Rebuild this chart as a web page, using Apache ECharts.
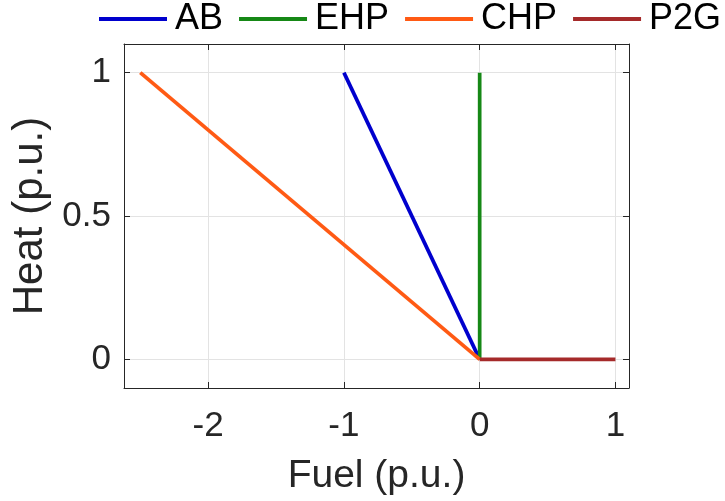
<!DOCTYPE html>
<html>
<head>
<meta charset="utf-8">
<script src="https://cdn.jsdelivr.net/npm/echarts@6/dist/echarts.min.js"></script>
<style>
html,body{margin:0;padding:0;background:#fff;}
#chart{width:725px;height:501px;}
</style>
</head>
<body>
<div id="chart"></div>
<script>
// Data
const seriesNames = ['AB', 'EHP', 'CHP', 'P2G'];
const abData  = [[-1, 1], [0, 0]];
const ehpData = [[0, 1], [0, 0]];
const chpData = [[-2.5, 1], [0, 0]];
const p2gData = [[0, 0], [1, 0]];
const xTicks = [-2, -1, 0, 1];
const yTicks = [0, 0.5, 1];
const xRange = [-2.62, 1.1];
const yRange = [-0.1, 1.1];
const colors = ['#0000CD', '#168816', '#FF5A14', '#A52A2A'];

const FONT = 'Liberation Sans, Arial, Helvetica, sans-serif';
const axisColor = '#262626';
const gridColor = '#E3E3E3';

const chart = echarts.init(document.getElementById('chart'), null, {renderer: 'canvas'});

function xAxisCfg(pos, show) {
  return {
    type: 'value', position: pos, min: xRange[0], max: xRange[1],
    axisLine: {show: true, onZero: false, lineStyle: {color: axisColor, width: 1}},
    axisTick: {show: true, inside: true, length: 6, customValues: xTicks, lineStyle: {color: axisColor}},
    axisLabel: {show: show, customValues: xTicks, color: axisColor, fontSize: 35, fontFamily: FONT, margin: 21},
    splitLine: {show: show, lineStyle: {color: gridColor, width: 1}},
    name: show ? 'Fuel (p.u.)' : '', nameLocation: 'middle', nameGap: 69,
    nameTextStyle: {color: axisColor, fontSize: 39, fontFamily: FONT}
  };
}
function yAxisCfg(pos, show) {
  return {
    type: 'value', position: pos, min: yRange[0], max: yRange[1],
    axisLine: {show: true, onZero: false, lineStyle: {color: axisColor, width: 1}},
    axisTick: {show: true, inside: true, length: 6, customValues: yTicks, lineStyle: {color: axisColor}},
    axisLabel: {show: show, customValues: yTicks, color: axisColor, fontSize: 35, fontFamily: FONT, margin: 13},
    splitLine: {show: show, lineStyle: {color: gridColor, width: 1}},
    name: show ? 'Heat (p.u.)' : '', nameLocation: 'middle', nameGap: 72, nameRotate: 90,
    nameTextStyle: {color: axisColor, fontSize: 42, fontFamily: FONT}
  };
}

const datasets = [abData, ehpData, chpData, p2gData];

chart.setOption({
  animation: false,
  backgroundColor: '#fff',
  grid: {left: 124, right: 96, top: 44, bottom: 113, containLabel: false},
  legend: {
    left: 99, top: 1, width: 626, padding: 0, icon: 'rect', itemWidth: 68, itemHeight: 4, itemGap: 16,
    data: seriesNames,
    textStyle: {color: '#000', fontSize: 36, fontFamily: FONT, padding: [0, 0, 0, 3]}
  },
  xAxis: [xAxisCfg('bottom', true), xAxisCfg('top', false)],
  yAxis: [yAxisCfg('left', true), yAxisCfg('right', false)],
  series: seriesNames.map((n, i) => ({
    name: n, type: 'line', data: datasets[i], xAxisIndex: 0, yAxisIndex: 0,
    showSymbol: false, symbol: 'none',
    lineStyle: {color: colors[i], width: 3.7},
    itemStyle: {color: colors[i]}
  }))
});
</script>
</body>
</html>
